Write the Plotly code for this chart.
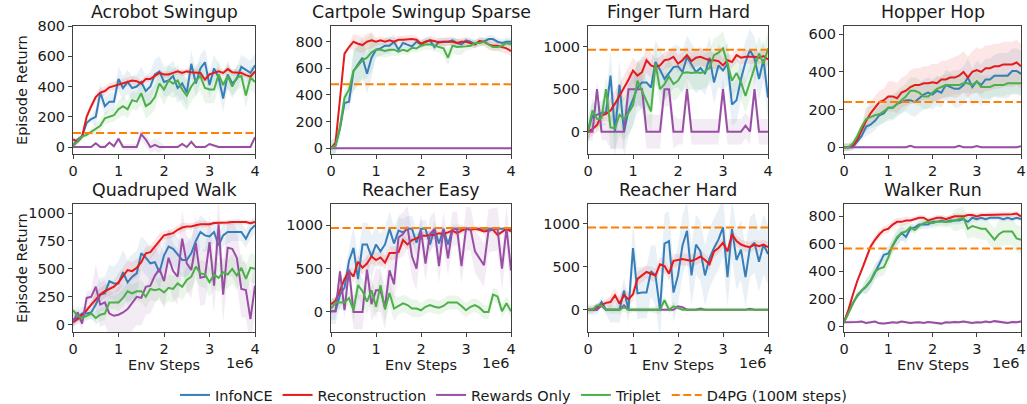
import plotly.graph_objects as go

# ---------------- data ----------------
STEPS = [0.0, 0.1, 0.2, 0.3, 0.4, 0.5, 0.6, 0.7, 0.8, 0.9, 1.0, 1.1, 1.2, 1.3, 1.4, 1.5, 1.6, 1.7, 1.8, 1.9,
         2.0, 2.1, 2.2, 2.3, 2.4, 2.5, 2.6, 2.7, 2.8, 2.9, 3.0, 3.1, 3.2, 3.3, 3.4, 3.5, 3.6, 3.7, 3.8, 3.9, 4.0]
X_TICKS = [0, 1, 2, 3, 4]

TASKS = ["Acrobot Swingup", "Cartpole Swingup Sparse", "Finger Turn Hard", "Hopper Hop",
         "Quadruped Walk", "Reacher Easy", "Reacher Hard", "Walker Run"]
METHODS = ["InfoNCE", "Reconstruction", "Rewards Only", "Triplet"]
D4PG_LABEL = "D4PG (100M steps)"
D4PG = [92, 480, 965, 240, None, 970, 958, 566]

Y_TICKS = [[0, 200, 400, 600, 800], [0, 200, 400, 600, 800], [0, 500, 1000], [0, 200, 400, 600],
           [0, 250, 500, 750, 1000], [0, 500, 1000], [0, 500, 1000], [0, 200, 400, 600, 800]]

# --- Acrobot Swingup
acrobot_infonce = [10, 50, 70, 160, 185, 200, 360, 270, 300, 300, 450, 390, 430, 390, 400, 430, 370, 400, 480, 500,
                   430, 440, 470, 390, 420, 360, 550, 420, 520, 560, 410, 520, 460, 320, 480, 420, 450, 530, 510, 490, 540]
acrobot_recon = [50, 35, 70, 200, 270, 330, 360, 370, 395, 405, 410, 420, 430, 440, 435, 420, 450, 450, 470, 490,
                 480, 480, 490, 500, 490, 500, 495, 495, 490, 445, 480, 490, 500, 490, 515, 495, 490, 490, 475, 465, 500]
acrobot_rewards = [0, 0, 0, 0, 0, 25, 0, 0, 30, 5, 55, 0, 0, 0, 0, 85, 50, 0, 15, 0,
                   0, 0, 0, 0, 20, 0, 35, 0, 0, 0, 20, 10, 0, 0, 0, 0, 0, 0, 0, 0, 65]
acrobot_triplet = [5, 40, 70, 80, 100, 120, 140, 190, 200, 210, 250, 270, 250, 310, 300, 355, 270, 290, 330, 420,
                   380, 440, 420, 440, 380, 340, 400, 440, 470, 390, 380, 380, 480, 410, 470, 400, 460, 470, 340, 460, 430]

# --- Cartpole Swingup Sparse
cartpole_infonce = [0, 20, 150, 340, 350, 580, 630, 680, 560, 680, 740, 750, 770, 770, 800, 740, 790, 780, 765, 800,
                    780, 800, 810, 760, 800, 800, 800, 810, 790, 780, 810, 800, 780, 800, 800, 820, 820, 800, 790, 800, 800]
cartpole_recon = [0, 40, 370, 710, 760, 800, 785, 775, 800, 810, 800, 810, 800, 810, 800, 815, 815, 820, 820, 815,
                  785, 800, 810, 805, 795, 800, 800, 800, 790, 800, 800, 790, 780, 805, 800, 780, 770, 770, 760, 750, 730]
cartpole_rewards = [0] * 41
cartpole_triplet = [0, 20, 160, 380, 440, 580, 620, 660, 680, 720, 740, 740, 730, 740, 740, 725, 740, 730, 755, 750,
                    770, 780, 780, 770, 760, 750, 680, 770, 760, 760, 765, 770, 790, 790, 800, 780, 760, 760, 770, 790, 780]

# --- Finger Turn Hard
finger_infonce = [10, 190, 200, 220, 230, 660, 0, 550, 0, 250, 380, 520, 580, 580, 520, 820, 730, 620, 690, 760,
                  770, 700, 880, 790, 700, 750, 680, 870, 580, 780, 720, 800, 320, 370, 620, 820, 960, 860, 620, 850, 400]
finger_recon = [0, 30, 80, 190, 210, 250, 330, 420, 520, 610, 720, 660, 700, 840, 780, 760, 780, 840, 850, 880,
                800, 840, 900, 830, 870, 880, 860, 840, 840, 830, 780, 840, 820, 900, 870, 880, 880, 880, 870, 890, 850]
finger_rewards = [0, 0, 500, 0, 0, 0, 0, 0, 0, 500, 500, 500, 500, 0, 0, 0, 0, 500, 500, 0,
                  0, 0, 500, 0, 0, 0, 0, 0, 0, 0, 500, 0, 0, 0, 0, 70, 0, 500, 0, 0, 0]
finger_triplet = [10, 250, 150, 160, 500, 50, 40, 200, 150, 220, 310, 600, 480, 360, 240, 800, 500, 560, 650, 560,
                  600, 690, 700, 690, 700, 690, 710, 750, 900, 930, 980, 800, 600, 690, 580, 420, 590, 770, 920, 800, 980]

# --- Hopper Hop
hopper_infonce = [0, 0, 0, 30, 60, 110, 120, 140, 170, 180, 210, 210, 230, 240, 250, 250, 240, 260, 280, 290,
                  280, 300, 290, 330, 320, 310, 310, 330, 370, 320, 350, 330, 360, 360, 380, 380, 380, 380, 405, 405, 390]
hopper_recon = [0, 0, 10, 40, 90, 140, 180, 210, 240, 250, 270, 270, 260, 290, 300, 320, 330, 330, 340, 340,
                345, 340, 360, 360, 370, 370, 380, 400, 370, 400, 410, 400, 420, 420, 430, 430, 440, 440, 440, 450, 430]
hopper_rewards = [0, 0, 0, 0, 0, 0, 0, 0, 0, 0, 0, 0, 0, 0, 0, 8, 0, 0, 0, 0,
                  0, 0, 0, 0, 0, 0, 8, 0, 0, 0, 6, 0, 0, 0, 0, 0, 0, 0, 0, 0, 5]
hopper_triplet = [0, 0, 20, 60, 110, 150, 160, 170, 175, 190, 210, 210, 230, 250, 270, 300, 300, 290, 270, 270,
                  290, 310, 320, 330, 330, 330, 330, 340, 340, 330, 350, 320, 320, 320, 330, 330, 330, 340, 340, 340, 340]

# --- Quadruped Walk
quad_infonce = [50, 60, 100, 100, 110, 180, 270, 280, 390, 370, 370, 470, 380, 430, 460, 640, 600, 550, 560, 470,
                620, 700, 680, 630, 580, 580, 640, 750, 830, 800, 790, 830, 710, 800, 830, 830, 830, 830, 770, 850, 890]
quad_recon = [20, 50, 90, 130, 180, 230, 270, 300, 320, 340, 380, 440, 490, 480, 510, 560, 640, 650, 700, 760,
              800, 810, 820, 850, 870, 880, 880, 890, 900, 900, 900, 910, 910, 910, 915, 920, 920, 920, 920, 910, 920]
quad_rewards = [20, 110, 10, 240, 250, 340, 180, 200, 100, 80, 90, 110, 140, 200, 250, 240, 340, 350, 440, 500,
                390, 600, 480, 430, 770, 550, 490, 730, 420, 430, 740, 350, 900, 270, 690, 680, 600, 320, 310, 50, 350]
quad_triplet = [130, 80, 60, 80, 100, 60, 90, 100, 200, 200, 200, 240, 300, 280, 300, 300, 250, 320, 310, 320,
                290, 330, 320, 370, 340, 400, 430, 520, 460, 450, 380, 450, 420, 470, 450, 500, 440, 510, 410, 510, 500]

# --- Reacher Easy
reacher_e_infonce = [10, 10, 200, 280, 590, 740, 380, 780, 780, 640, 780, 700, 780, 960, 790, 940, 920, 960, 960, 800,
                     960, 960, 780, 960, 790, 960, 780, 960, 960, 960, 960, 960, 960, 960, 960, 960, 960, 960, 960, 960, 950]
reacher_e_recon = [90, 130, 250, 380, 470, 410, 580, 510, 560, 640, 600, 630, 570, 680, 680, 690, 830, 780, 830, 850,
                   880, 880, 890, 890, 910, 900, 920, 940, 910, 940, 960, 950, 960, 950, 930, 940, 950, 890, 930, 960, 930]
reacher_e_rewards = [10, 10, 470, 20, 490, 0, 0, 0, 490, 90, 250, 250, 50, 480, 320, 860, 900, 980, 640, 500,
                     940, 560, 900, 960, 530, 960, 620, 960, 960, 530, 960, 960, 700, 620, 540, 940, 950, 960, 500, 970, 480]
reacher_e_triplet = [40, 110, 110, 110, 160, 20, 310, 240, 120, 250, 60, 310, 30, 220, 40, 70, 100, 80, 40, 40,
                     20, 60, 80, 60, 50, 70, 110, 110, 110, 70, 20, 60, 80, 50, 0, 0, 200, 180, 10, 100, 10]

# --- Reacher Hard
reacher_h_infonce = [0, 0, 0, 90, 0, 0, 0, 0, 220, 0, 720, 190, 200, 200, 450, 400, 0, 770, 800, 200,
                     400, 750, 920, 400, 760, 680, 400, 600, 720, 820, 960, 380, 940, 580, 700, 380, 730, 780, 560, 760, 650]
reacher_h_recon = [0, 0, 30, 60, 80, 90, 170, 70, 170, 120, 180, 360, 400, 440, 420, 400, 530, 510, 420, 570,
                   580, 590, 580, 570, 590, 620, 580, 530, 680, 720, 780, 680, 880, 800, 760, 740, 730, 760, 740, 760, 730]
reacher_h_rewards = [0, 0, 0, 50, 0, 0, 0, 0, 50, 0, 0, 0, 0, 0, 0, 0, 0, 0, 0, 0,
                     40, 30, 0, 0, 0, 15, 0, 0, 0, 0, 0, 0, 0, 0, 0, 0, 10, 0, 0, 0, 0]
reacher_h_triplet = [0, 0, 50, 50, 0, 0, 0, 0, 30, 0, 0, 0, 0, 0, 0, 0, 0, 110, 0, 40,
                     20, 0, 0, 0, 0, 0, 0, 0, 0, 0, 0, 0, 0, 0, 0, 0, 0, 0, 0, 0, 0]

# --- Walker Run
walker_infonce = [30, 100, 170, 220, 260, 290, 330, 390, 450, 520, 530, 590, 640, 680, 650, 710, 720, 740, 740, 740,
                  760, 760, 770, 760, 770, 770, 770, 780, 760, 790, 780, 790, 780, 790, 790, 790, 780, 790, 780, 790, 780]
walker_recon = [30, 120, 230, 330, 410, 490, 580, 630, 670, 700, 710, 740, 760, 760, 770, 770, 780, 790, 790, 770,
                780, 790, 790, 780, 790, 800, 800, 800, 810, 810, 800, 810, 810, 810, 810, 810, 810, 815, 815, 820, 800]
walker_rewards = [30, 30, 28, 32, 35, 25, 30, 35, 22, 20, 25, 30, 26, 35, 30, 25, 28, 30, 25, 32,
                  28, 25, 20, 30, 28, 32, 30, 35, 28, 25, 30, 28, 35, 30, 38, 35, 30, 25, 32, 30, 35]
walker_triplet = [30, 100, 170, 230, 260, 290, 330, 400, 420, 430, 500, 590, 650, 680, 690, 720, 700, 730, 750, 760,
                  750, 760, 760, 760, 760, 770, 780, 790, 710, 730, 720, 710, 710, 670, 630, 670, 690, 690, 690, 640, 630]

# spread (shaded band half-width) per 0.5e6 segment, per method
SPREAD = {
    "Acrobot Swingup": [[20, 60, 80, 100, 100, 90, 90, 80], [20, 30, 30, 20, 20, 20, 20, 20],
                        [5, 10, 20, 40, 10, 10, 10, 10], [20, 40, 60, 80, 100, 100, 90, 80]],
    "Cartpole Swingup Sparse": [[60, 150, 60, 30, 30, 30, 30, 30], [20, 60, 30, 30, 30, 30, 30, 40],
                                [0, 0, 0, 0, 0, 0, 0, 0], [60, 150, 50, 30, 40, 60, 30, 30]],
    "Finger Turn Hard": [[150, 300, 300, 250, 250, 250, 250, 250], [80, 150, 150, 100, 100, 100, 80, 80],
                         [100, 200, 200, 200, 150, 150, 150, 150], [150, 250, 250, 200, 200, 200, 200, 200]],
    "Hopper Hop": [[20, 50, 60, 80, 80, 100, 110, 120], [20, 60, 80, 90, 100, 110, 120, 120],
                   [5, 5, 5, 5, 5, 5, 5, 5], [20, 60, 70, 70, 60, 50, 60, 60]],
    "Quadruped Walk": [[60, 150, 200, 150, 150, 150, 100, 80], [30, 60, 80, 60, 40, 30, 20, 20],
                       [60, 200, 250, 250, 250, 250, 250, 250], [40, 60, 80, 100, 120, 120, 130, 130]],
    "Reacher Easy": [[150, 250, 200, 150, 100, 50, 20, 20], [50, 80, 80, 60, 50, 40, 30, 30],
                     [100, 200, 250, 250, 200, 200, 250, 250], [80, 150, 150, 100, 80, 80, 80, 80]],
    "Reacher Hard": [[60, 150, 300, 350, 350, 350, 350, 350], [40, 80, 80, 80, 70, 70, 60, 60],
                     [20, 20, 20, 20, 10, 10, 10, 10], [30, 50, 30, 50, 20, 10, 10, 10]],
    "Walker Run": [[20, 50, 50, 30, 30, 30, 20, 20], [20, 30, 30, 20, 20, 20, 20, 20],
                   [10, 10, 10, 10, 10, 10, 10, 10], [20, 60, 60, 30, 40, 80, 80, 100]],
}

SERIES = {
    "Acrobot Swingup": [acrobot_infonce, acrobot_recon, acrobot_rewards, acrobot_triplet],
    "Cartpole Swingup Sparse": [cartpole_infonce, cartpole_recon, cartpole_rewards, cartpole_triplet],
    "Finger Turn Hard": [finger_infonce, finger_recon, finger_rewards, finger_triplet],
    "Hopper Hop": [hopper_infonce, hopper_recon, hopper_rewards, hopper_triplet],
    "Quadruped Walk": [quad_infonce, quad_recon, quad_rewards, quad_triplet],
    "Reacher Easy": [reacher_e_infonce, reacher_e_recon, reacher_e_rewards, reacher_e_triplet],
    "Reacher Hard": [reacher_h_infonce, reacher_h_recon, reacher_h_rewards, reacher_h_triplet],
    "Walker Run": [walker_infonce, walker_recon, walker_rewards, walker_triplet],
}

# ---------------- styling / layout ----------------
W, H = 1027, 404
COLORS = ["#377eb8", "#e41a1c", "#984ea3", "#4daf4a"]
BANDS = ["rgba(55,126,184,0.11)", "rgba(228,26,28,0.11)", "rgba(152,78,163,0.11)", "rgba(77,175,74,0.11)"]
ORANGE = "#ff7f00"
FONT = "DejaVu Sans"
TXT = "#1a1a1a"
SPINE = "#404040"

COLS_PX = [(73, 255), (331, 511), (588, 768), (844, 1021)]
ROWS_PX = [(26, 154), (204, 332)]
Y_RANGES = [[-46, 800], [-43, 918], [-262, 1243], [-36, 644],
            [-65, 1081], [-231, 1247], [-260, 1233], [-41, 890]]

fig = go.Figure()
layout = dict(width=W, height=H, margin=dict(l=0, r=0, t=0, b=0, autoexpand=False),
              paper_bgcolor="white", plot_bgcolor="white",
              font=dict(family=FONT, size=14.5, color=TXT))
annotations = []

for k, task in enumerate(TASKS):
    r, c = divmod(k, 4)
    xs = "x" if k == 0 else f"x{k + 1}"
    ys = "y" if k == 0 else f"y{k + 1}"
    x0, x1 = COLS_PX[c]
    y0, y1 = ROWS_PX[r]
    common = dict(showgrid=False, zeroline=False, showline=True, mirror=True, linecolor=SPINE, linewidth=1,
                  ticks="outside", ticklen=4, tickwidth=1, tickcolor=SPINE, automargin=False,
                  ticklabeloverflow="allow",
                  tickfont=dict(family=FONT, size=14.5, color=TXT))
    layout["xaxis" if k == 0 else f"xaxis{k + 1}"] = dict(
        domain=[x0 / W, x1 / W], anchor=ys, range=[STEPS[0], STEPS[-1]],
        tickvals=X_TICKS, ticktext=[str(t) for t in X_TICKS], **common)
    layout["yaxis" if k == 0 else f"yaxis{k + 1}"] = dict(
        domain=[1 - y1 / H, 1 - y0 / H], anchor=xs, range=Y_RANGES[k],
        tickvals=Y_TICKS[k], ticktext=[str(t) for t in Y_TICKS[k]], **common)

    for m, (name, ys_data) in enumerate(zip(METHODS, SERIES[task])):
        spr = SPREAD[task][m]
        s = [spr[min(i // 5, 7)] for i in range(len(STEPS))]
        upper = [v + d for v, d in zip(ys_data, s)]
        lower = [v - d for v, d in zip(ys_data, s)]
        fig.add_trace(go.Scatter(x=STEPS + STEPS[::-1], y=upper + lower[::-1], fill="toself",
                                 fillcolor=BANDS[m], line=dict(width=0), mode="lines",
                                 hoverinfo="skip", showlegend=False, xaxis=xs, yaxis=ys))
    for m, (name, ys_data) in enumerate(zip(METHODS, SERIES[task])):
        fig.add_trace(go.Scatter(x=STEPS, y=ys_data, mode="lines", name=name,
                                 line=dict(color=COLORS[m], width=2), legendgroup=name,
                                 showlegend=(k == 0), xaxis=xs, yaxis=ys))
    if D4PG[k] is not None:
        fig.add_trace(go.Scatter(x=[STEPS[0], STEPS[-1]], y=[D4PG[k], D4PG[k]], mode="lines",
                                 name=D4PG_LABEL, legendgroup="d4pg",
                                 line=dict(color=ORANGE, width=2, dash="8px,3.5px"),
                                 showlegend=(k == 0), xaxis=xs, yaxis=ys))

    # title
    annotations.append(dict(text=task, xref="paper", yref="paper", x=(x0 + x1) / 2 / W,
                            y=1 - (y0 - 14) / H, xanchor="center", yanchor="middle", showarrow=False,
                            font=dict(family=FONT, size=17.4, color=TXT)))
    if c == 0:
        annotations.append(dict(text="Episode Return", xref="paper", yref="paper", x=22 / W,
                                y=1 - (y0 + y1) / 2 / H, xanchor="center", yanchor="middle",
                                textangle=-90, showarrow=False, font=dict(family=FONT, size=14.5, color=TXT)))
    if r == 1:
        annotations.append(dict(text="Env Steps", xref="paper", yref="paper", x=(x0 + x1) / 2 / W,
                                y=1 - 365 / H, xanchor="center", yanchor="middle", showarrow=False,
                                font=dict(family=FONT, size=14.5, color=TXT)))
        annotations.append(dict(text="1e6", xref="paper", yref="paper", x=x1 / W,
                                y=1 - 363 / H, xanchor="right", yanchor="middle", showarrow=False,
                                font=dict(family=FONT, size=14.5, color=TXT)))

layout["annotations"] = annotations
layout["legend"] = dict(orientation="h", x=0.5, xanchor="center", y=1 - 395 / H, yanchor="middle",
                        font=dict(family=FONT, size=14.5, color=TXT), itemwidth=30,
                        bgcolor="rgba(0,0,0,0)", traceorder="normal")
layout["showlegend"] = True
fig.update_layout(**layout)
fig.write_html("out.html")
